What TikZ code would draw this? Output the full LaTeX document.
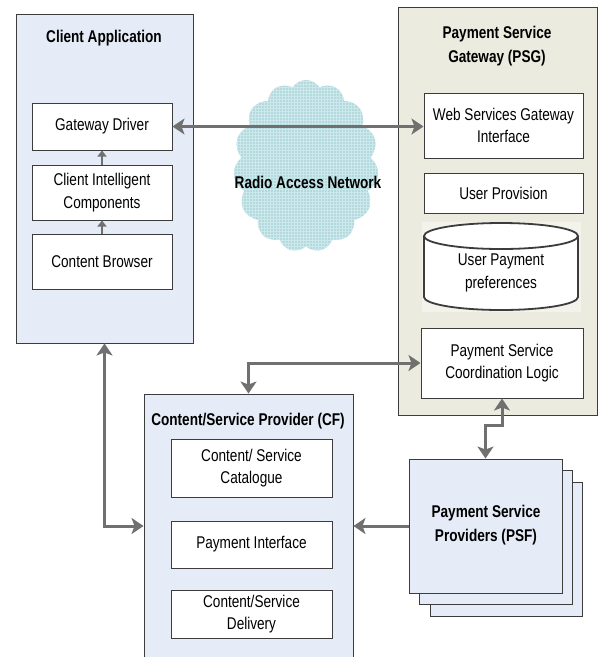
\documentclass[tikz,border=0pt]{standalone}
\usepackage{fontspec}
\setmainfont{Liberation Sans}[FakeStretch=0.8]
\usetikzlibrary{shapes.symbols,patterns,arrows.meta,calc}
\definecolor{bluefill}{RGB}{230,236,247}
\definecolor{psgfill}{RGB}{235,235,223}
\definecolor{cloudfill}{RGB}{178,218,222}
\definecolor{cloudgrid}{RGB}{205,232,234}
\definecolor{linkgray}{RGB}{112,112,112}
\definecolor{edgegray}{RGB}{60,60,60}
\tikzset{
  panel/.style={draw=edgegray, line width=0.9pt, inner sep=0pt},
  subbox/.style={draw=edgegray, line width=1pt, fill=white, inner sep=0pt, align=center,
    font=\fontsize{17}{22.5}\selectfont},
  title/.style={font=\bfseries\fontsize{17}{24}\selectfont, align=center},
  link/.style={draw=linkgray, line width=3pt, {Stealth[length=12pt,width=16pt,inset=3pt]}-{Stealth[length=12pt,width=16pt,inset=3pt]}},
  onelink/.style={draw=linkgray, line width=3pt, -{Stealth[length=12pt,width=16pt,inset=3pt]}},
  smalllink/.style={draw=linkgray, line width=2.5pt, -{Triangle[length=6pt,width=9pt]}},
}
\begin{document}
\begin{tikzpicture}[x=1pt,y=-1pt]
\useasboundingbox[fill=white] (0,0) rectangle (599,657);

% Client application
\node[panel, fill=bluefill, minimum width=177, minimum height=329] (client) at (104.5,178.5) {};
\node[title] (clienttitle) at (104,38) {Client Application};
\node[subbox, minimum width=140, minimum height=47] (gd) at (102,126.5) {Gateway Driver};
\node[subbox, minimum width=140, minimum height=55] (cic) at (102,192.5) {Client Intelligent\\Components};
\node[subbox, minimum width=140, minimum height=55] (cb) at (102,261.5) {Content Browser};
\draw[smalllink] (cic.north) -- (gd.south);
\draw[smalllink] (cb.north) -- (cic.south);

% Payment service gateway
\node[panel, fill=psgfill, minimum width=199, minimum height=408] (psg) at (497.5,211) {};
\node[title] (psgtitle) at (497,46) {Payment Service\\Gateway (PSG)};
\node[subbox, minimum width=159, minimum height=65] (wsgi) at (503.5,125.5) {Web Services Gateway\\Interface};
\node[subbox, minimum width=159, minimum height=40] (up) at (503.5,193) {User Provision};
% user payment preferences store
\fill[white!40!psgfill] (422,222) rectangle (581,312);
\draw[edgegray, line width=1.8pt, fill=white]
  (424,236) -- (424,297) arc[start angle=180, end angle=0, x radius=77, y radius=13]
  -- (578,236);
\draw[edgegray, line width=1.8pt, fill=white] (501,236) ellipse[x radius=77, y radius=13];
\node[font=\fontsize{17}{22.5}\selectfont, align=center] (upp) at (501,273) {User Payment\\preferences};
\node[subbox, minimum width=162, minimum height=70] (pscl) at (502,363) {Payment Service\\Coordination Logic};

% Radio access network
\node[cloud, cloud puffs=15, cloud puff arc=115, aspect=0.85, minimum width=145, minimum height=172,
  fill=cloudfill, postaction={pattern=grid, pattern color=cloudgrid}, inner sep=0pt] (ran) at (306,166) {};
\node[title] (rantitle) at (308,182) {Radio Access Network};

% Content / service provider
\node[panel, fill=bluefill, minimum width=209, minimum height=275] (cf) at (248.5,531.5) {};
\node[title] (cftitle) at (248,421) {Content/Service Provider (CF)};
\node[subbox, minimum width=161, minimum height=58] (csc) at (251.5,468) {Content/ Service\\Catalogue};
\node[subbox, minimum width=161, minimum height=47] (pi) at (251.5,544.5) {Payment Interface};
\node[subbox, minimum width=161, minimum height=48] (csd) at (251.5,614) {Content/Service\\Delivery};

% Payment service providers (stacked)
\node[panel, fill=bluefill, minimum width=152, minimum height=134] (psf3) at (506,549) {};
\node[panel, fill=bluefill, minimum width=153, minimum height=134] (psf2) at (495.5,537) {};
\node[panel, fill=bluefill, minimum width=153, minimum height=134] (psf) at (485.5,526) {};
\node[title] (psftitle) at (486,525) {Payment Service\\Providers (PSF)};

% Connectors
\draw[link] (gd.east) -- (gd.east -| wsgi.west);
\draw[link] (client.south) |- (cf.west |- psf.west);
\draw[link] (cf.north) |- (pscl.west);
\draw[link] (pscl.south) -- ++(0,27) -| (psf.north);
\draw[onelink] (psf.west) -- (psf.west -| cf.east);
\end{tikzpicture}
\end{document}
